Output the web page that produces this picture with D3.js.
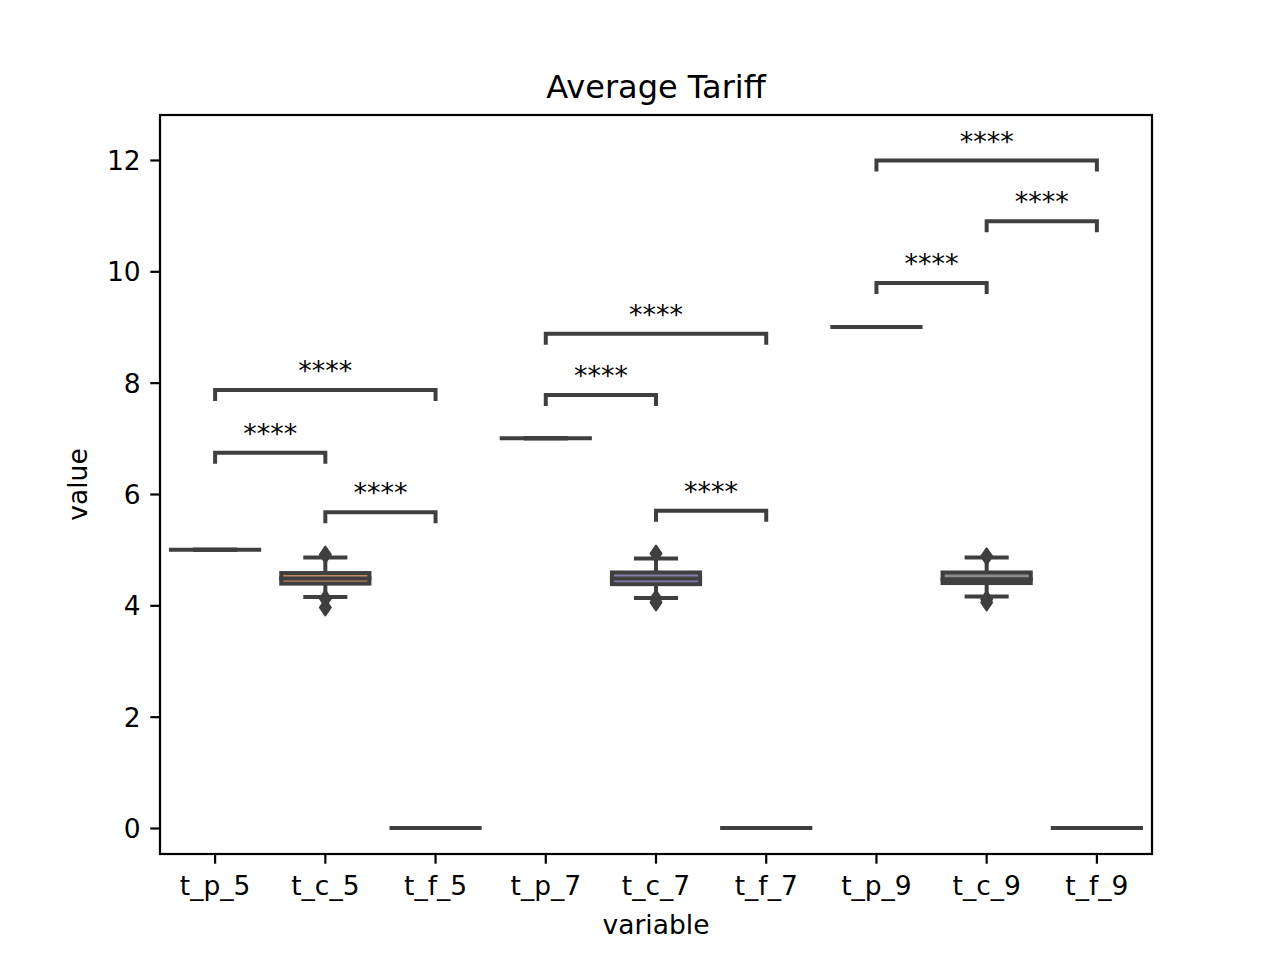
<!DOCTYPE html>
<html>
<head>
<meta charset="utf-8">
<script src="https://cdn.jsdelivr.net/npm/d3@7"></script>
<style>
    body { margin: 0; background: #fff; }
    text { font-family: "DejaVu Sans", sans-serif; fill: #000; }
</style>
</head>
<body>
<svg id="chart" width="1280" height="960"></svg>
<script>
// values
const categories = ["t_p_5", "t_c_5", "t_f_5", "t_p_7", "t_c_7", "t_f_7", "t_p_9", "t_c_9", "t_f_9"];
const q1 = [5, 4.39, 0, 7, 4.38, 0, 9, 4.40, 0];
const medians = [5, 4.48, 0, 7, 4.48, 0, 9, 4.47, 0];
const q3 = [5, 4.58, 0, 7, 4.59, 0, 9, 4.59, 0];
const whiskerLow = [5, 4.15, 0, 7, 4.13, 0, 9, 4.16, 0];
const whiskerHigh = [5, 4.86, 0, 7, 4.84, 0, 9, 4.86, 0];
const fliers = [[], [4.91, 4.12, 3.96], [], [], [4.93, 4.12, 4.05], [], [], [4.88, 4.11, 4.05], []];
const palette = ["#5975a4", "#cc8963", "#5f9e6e", "#b55d60", "#857aab", "#8d7866", "#d095bf", "#8c8c8c", "#c1b37f"];

const pairs = [
    ["t_p_5", "t_c_5", 6.74],
    ["t_p_5", "t_f_5", 7.87],
    ["t_c_5", "t_f_5", 5.67],
    ["t_p_7", "t_c_7", 7.78],
    ["t_p_7", "t_f_7", 8.88],
    ["t_c_7", "t_f_7", 5.70],
    ["t_p_9", "t_c_9", 9.79],
    ["t_c_9", "t_f_9", 10.90],
    ["t_p_9", "t_f_9", 11.99]
];
const pairLabel = "****";
const yTicks = [0, 2, 4, 6, 8, 10, 12];

const margin = { left: 160, right: 1152, top: 115, bottom: 854 };
const edge = "#3f3f3f";
const lw = 4;

const svg = d3.select("#chart");

const x = d3.scaleBand()
    .domain(categories)
    .range([margin.left, margin.right])
    .padding(0);

const y = d3.scaleLinear()
    .domain([-0.467, 12.808])
    .range([margin.bottom, margin.top]);

const boxW = x.bandwidth() * 0.8;
const cx = c => x(c) + x.bandwidth() / 2;

const rows = categories.map((c, i) => ({
    c, q1: q1[i], med: medians[i], q3: q3[i],
    lo: whiskerLow[i], hi: whiskerHigh[i], fl: fliers[i], color: palette[i]
}));

const boxes = svg.append("g").attr("class", "boxes");

const groups = boxes.selectAll("g")
    .data(rows)
    .join("g");

// whiskers
groups.append("line")
    .attr("x1", d => cx(d.c)).attr("x2", d => cx(d.c))
    .attr("y1", d => y(d.q3)).attr("y2", d => y(d.hi))
    .attr("stroke", edge).attr("stroke-width", lw);
groups.append("line")
    .attr("x1", d => cx(d.c)).attr("x2", d => cx(d.c))
    .attr("y1", d => y(d.q1)).attr("y2", d => y(d.lo))
    .attr("stroke", edge).attr("stroke-width", lw);

// caps
groups.selectAll(".cap")
    .data(d => [d.lo, d.hi].map(v => ({ c: d.c, v })))
    .join("line")
    .attr("class", "cap")
    .attr("x1", d => cx(d.c) - boxW / 4).attr("x2", d => cx(d.c) + boxW / 4)
    .attr("y1", d => y(d.v)).attr("y2", d => y(d.v))
    .attr("stroke", edge).attr("stroke-width", lw);

// box body
groups.append("rect")
    .attr("x", d => cx(d.c) - boxW / 2)
    .attr("width", boxW)
    .attr("y", d => y(d.q3))
    .attr("height", d => y(d.q1) - y(d.q3))
    .attr("fill", d => d.color)
    .attr("stroke", edge).attr("stroke-width", lw);

// median
groups.append("line")
    .attr("x1", d => cx(d.c) - boxW / 2).attr("x2", d => cx(d.c) + boxW / 2)
    .attr("y1", d => y(d.med)).attr("y2", d => y(d.med))
    .attr("stroke", edge).attr("stroke-width", lw)
    .attr("stroke-linecap", "square");

// fliers, thin diamonds
groups.selectAll(".flier")
    .data(d => d.fl.map(v => ({ c: d.c, v })))
    .join("path")
    .attr("class", "flier")
    .attr("d", d => {
        const px = cx(d.c), py = y(d.v), h = 8, w = 5.5;
        return `M${px},${py - h}L${px + w},${py}L${px},${py + h}L${px - w},${py}Z`;
    })
    .attr("fill", edge).attr("stroke", edge).attr("stroke-width", 2).attr("stroke-linejoin", "round");

// significance brackets
const tickLen = 11;
const annot = svg.append("g").attr("class", "annotations");
const brackets = annot.selectAll("g")
    .data(pairs)
    .join("g");

brackets.append("path")
    .attr("d", d => {
        const x1 = cx(d[0]), x2 = cx(d[1]), yy = y(d[2]);
        return `M${x1},${yy + tickLen}L${x1},${yy}L${x2},${yy}L${x2},${yy + tickLen}`;
    })
    .attr("fill", "none")
    .attr("stroke", edge).attr("stroke-width", lw);

brackets.append("text")
    .attr("x", d => (cx(d[0]) + cx(d[1])) / 2)
    .attr("y", d => y(d[2]) - 10)
    .attr("text-anchor", "middle")
    .style("font-size", "27px")
    .text(pairLabel);

// axes
const yAxis = svg.append("g")
    .attr("transform", `translate(${margin.left},0)`)
    .call(d3.axisLeft(y).tickValues(yTicks).tickSize(9.7).tickPadding(9.7).tickFormat(d3.format("d")));

const xAxis = svg.append("g")
    .attr("transform", `translate(0,${margin.bottom})`)
    .call(d3.axisBottom(x).tickSize(9.7).tickPadding(9.7));

[yAxis, xAxis].forEach(a => {
    a.select(".domain").remove();
    a.selectAll(".tick line").attr("stroke", "#000").attr("stroke-width", 2.2);
    a.selectAll(".tick text").style("font-size", "26.5px").attr("fill", "#000");
});
yAxis.selectAll(".tick text").attr("dy", "0.36em");
xAxis.selectAll(".tick text").attr("dy", null).attr("y", 41);

// frame
svg.append("rect")
    .attr("x", margin.left).attr("y", margin.top)
    .attr("width", margin.right - margin.left)
    .attr("height", margin.bottom - margin.top)
    .attr("fill", "none")
    .attr("stroke", "#000").attr("stroke-width", 2.2);

// labels
svg.append("text")
    .attr("x", (margin.left + margin.right) / 2).attr("y", 98)
    .attr("text-anchor", "middle")
    .style("font-size", "32px")
    .text("Average Tariff");

svg.append("text")
    .attr("x", (margin.left + margin.right) / 2).attr("y", 934)
    .attr("text-anchor", "middle")
    .style("font-size", "26.5px")
    .text("variable");

svg.append("text")
    .attr("transform", `translate(87,${(margin.top + margin.bottom) / 2}) rotate(-90)`)
    .attr("text-anchor", "middle")
    .style("font-size", "26.5px")
    .text("value");
</script>
</body>
</html>
